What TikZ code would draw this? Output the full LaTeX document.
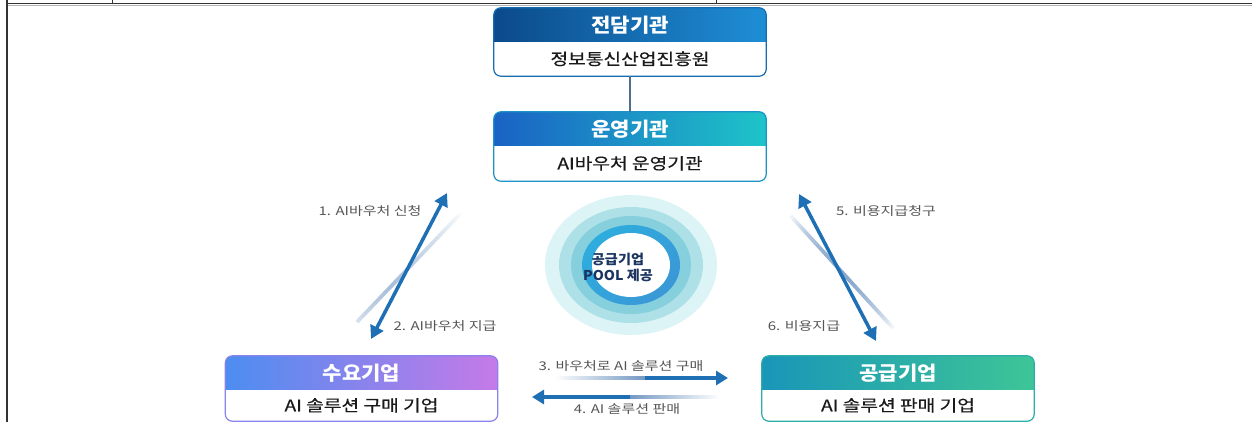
\documentclass[tikz,border=0pt]{standalone}
\usepackage{fontspec}
\newfontfamily\kr{Noto Sans CJK KR}
\newfontfamily\krhdr[FakeStretch=1.08]{Noto Sans CJK KR}
\newfontfamily\krbody[FakeStretch=1.2,FakeBold=0.5]{Noto Sans CJK KR}
\newfontfamily\krlab[FakeStretch=1.25]{Noto Sans CJK KR}
\newfontfamily\krpool[FakeStretch=1.05]{Noto Sans CJK KR}
\usetikzlibrary{arrows.meta,calc,shapes.geometric}
\definecolor{jdL}{HTML}{0B4A8A}\definecolor{jdR}{HTML}{1F8ED6}
\definecolor{oyL}{HTML}{1A62C4}\definecolor{oyR}{HTML}{1EC4C8}
\definecolor{syL}{HTML}{4D8DF0}\definecolor{syR}{HTML}{C57AE8}
\definecolor{gqL}{HTML}{1996B8}\definecolor{gqR}{HTML}{3EC597}
\definecolor{arr}{HTML}{1F6FB5}
\definecolor{fade}{HTML}{7397C2}
\definecolor{lbl}{HTML}{555555}
\definecolor{bodytxt}{HTML}{1A1A1A}
\definecolor{ring1}{HTML}{DDF4F6}\definecolor{ring2}{HTML}{AEE0E8}
\definecolor{ring3}{HTML}{86CFDD}\definecolor{ringB}{HTML}{3A98D6}
\definecolor{navy}{HTML}{1A3560}
\definecolor{link}{HTML}{4F6F8F}
\newcommand\orgbox[8]{%
  \node[draw=none, minimum width=272pt, minimum height=#8pt, inner sep=0pt, fill=white] (#1) at (#2,{#3+#8/2}) {};
  \begin{scope}
    \clip[rounded corners=7pt] (#1.north west) rectangle (#1.south east);
    \shade[left color=#4, right color=#5] (#1.north west) rectangle ([yshift=-34pt]#1.north east);
  \end{scope}
  \draw[rounded corners=7pt, line width=1.2pt, draw=#4!50!#5] (#1.north west) rectangle (#1.south east);
  \node[hdr] (#1h) at ([yshift=-17pt]#1.north) {#6};
  \node[bdy] (#1b) at ([yshift={-(17+#8/2)*1pt}]#1.north) {#7};
}
\newcommand\fadeline[3]{%
  \foreach \i in {0,...,39} {
    \pgfmathsetmacro\t{\i/40}
    \pgfmathsetmacro\o{#3}
    \draw[fade, line width=3.8pt, draw opacity=\o] ($(#1)!{\i/40}!(#2)$) -- ($(#1)!{(\i+1)/40}!(#2)$);
  }
}
\begin{document}
\begin{tikzpicture}[x=1pt,y=-1pt,font=\kr,
  hdr/.style={text=white, font=\krhdr\bfseries\fontsize{19.5}{21}\selectfont, inner sep=0pt},
  bdy/.style={text=bodytxt, font=\krbody\fontsize{16}{18}\selectfont, inner sep=0pt},
  lab/.style={text=lbl, font=\krlab\fontsize{12}{14}\selectfont, inner sep=0pt},
  dbl/.style={arr, line width=3.5pt, {Triangle[length=13pt,width=14pt]}-{Triangle[length=13pt,width=14pt]}},
  sgl/.style={arr, line width=3.5pt, -{Triangle[length=12pt,width=14pt]}},
  frame/.style={draw=black!80, line width=1.5pt}]
\useasboundingbox (0,0) rectangle (1252,422);
% frame
\draw[frame] (7,3.5) -- (1252,3.5);
\draw[black!30, line width=0.8pt] (7,5.5) -- (1252,5.5);
\draw[frame] (7,0) -- (7,422);
\draw[black!80, line width=1pt] (112,0) -- (112,3);
\draw[black!80, line width=1pt] (716,0) -- (716,3);
% boxes
\orgbox{jd}{630}{8}{jdL}{jdR}{전담기관}{정보통신산업진흥원}{68}
\orgbox{oy}{630}{112}{oyL}{oyR}{운영기관}{AI바우처 운영기관}{69}
\orgbox{sy}{361.5}{356}{syL}{syR}{수요기업}{AI 솔루션 구매 기업}{65}
\orgbox{gq}{898}{356}{gqL}{gqR}{공급기업}{AI 솔루션 판매 기업}{65}
\draw[draw=link, line width=1.2pt] (jd.south) -- (oy.north);
% central circle
\node[ellipse, fill=ring1, minimum width=172pt, minimum height=140pt, inner sep=0pt] (c1) at (631,265) {};
\node[ellipse, fill=ring2, minimum width=144pt, minimum height=116pt, inner sep=0pt] (c2) at (c1) {};
\node[ellipse, fill=ring3, minimum width=120pt, minimum height=98pt, inner sep=0pt] (c3) at (c1) {};
\node[ellipse, shade, left color=ringB!80!cyan, right color=ringB, shading angle=45, minimum width=98pt, minimum height=80pt, inner sep=0pt] (c4) at (c1) {};
\node[ellipse, fill=white, minimum width=78pt, minimum height=64pt, inner sep=0pt] (c5) at (c1) {};
\node[text=navy, font=\krpool\bfseries\fontsize{13.5}{16}\selectfont, align=center, inner sep=0pt] (pool) at (618,267) {공급기업\\POOL 제공};
% left arrows
\coordinate (lf1) at (357,322); \coordinate (lf2) at (461,213);
\fadeline{lf1}{lf2}{0.85*(1-\t)^0.8*min(1,0.35+2*\t)}
\coordinate (l1) at (447,193); \coordinate (l2) at (371,339);
\draw[dbl] (l1) -- (l2);
\node[lab] (t1) at (370,211) {1. AI바우처 신청};
\node[lab] (t2) at (445,326) {2. AI바우처 지급};
% right arrows
\coordinate (rf1) at (788,213); \coordinate (rf2) at (893,328);
\fadeline{rf1}{rf2}{0.85*sin(180*\t)^0.8}
\coordinate (r1) at (799,194); \coordinate (r2) at (876,341);
\draw[dbl] (r1) -- (r2);
\node[lab] (t5) at (886,211) {5. 비용지급청구};
\node[lab] (t6) at (804,326) {6. 비용지급};
% bottom arrows
\coordinate (b1) at (553,378); \coordinate (b2) at (645,378); \coordinate (b3) at (728,378);
\fadeline{b1}{b2}{\t}
\draw[sgl] (b2) -- (b3);
\coordinate (d1) at (722,397); \coordinate (d2) at (630,397); \coordinate (d3) at (532,397);
\fadeline{d1}{d2}{\t}
\draw[sgl] (d2) -- (d3);
\node[lab] (t3) at (621,366) {3. 바우처로 AI 솔루션 구매};
\node[lab] (t4) at (627,409) {4. AI 솔루션 판매};
\end{tikzpicture}
\end{document}
